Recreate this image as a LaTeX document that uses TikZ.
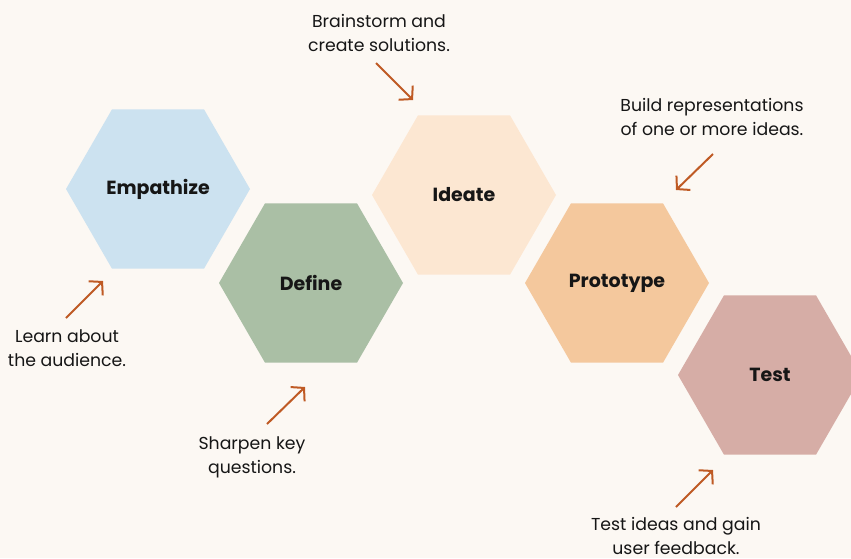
\documentclass[tikz,border=0pt]{standalone}
\usepackage{fontspec}
\setmainfont{Poppins}
\usetikzlibrary{shapes.geometric,arrows.meta}

\definecolor{paper}{HTML}{FCF8F3}
\definecolor{ink}{HTML}{161616}
\definecolor{rust}{HTML}{BF5A24}
\definecolor{skyblue}{HTML}{CCE2F0}
\definecolor{sage}{HTML}{AABFA5}
\definecolor{cream}{HTML}{FCE7D2}
\definecolor{apricot}{HTML}{F4C89D}
\definecolor{rosewood}{HTML}{D6ADA6}

\tikzset{
  hexa/.style={regular polygon, regular polygon sides=6, minimum size=184pt,
    inner sep=0pt, text=ink, font=\fontsize{19}{22}\selectfont\bfseries},
  note/.style={align=center, text=ink, font=\fontsize{17.3}{24}\selectfont},
  hint/.style={draw=rust, line width=2pt, -{Straight Barb[length=9pt,width=20pt]}}
}

\begin{document}
\begin{tikzpicture}[x=1pt, y=-1pt]
\useasboundingbox (0,0) rectangle (851,558);
\fill [paper] (0,0) rectangle (851,558);
\clip (0,0) rectangle (851,558);

% the five stages
\node [hexa, fill=skyblue, name=empathize] at (158,189) {Empathize};
\node [hexa, fill=sage, name=define] at (311,283) {Define};
\node [hexa, fill=cream, name=ideate] at (464,195) {Ideate};
\node [hexa, fill=apricot, name=prototype] at (617,283) {Prototype};
\node [hexa, fill=rosewood, name=test] at (770,375) {Test};

% notes
\node [note, name=learn] at (67,348) {Learn about\\the audience.};
\node [note, name=sharpen] at (252,457) {Sharpen key\\questions.};
\node [note, name=brainstorm] at (379,33) {Brainstorm and\\create solutions.};
\node [note, name=build] at (712,117) {Build representations\\of one or more ideas.};
\node [note, name=gain] at (676,536) {Test ideas and gain\\user feedback.};

% arrow ends
\coordinate (learn tail) at (66,318);   \coordinate (learn head) at (103,281);
\coordinate (sharpen tail) at (267,424); \coordinate (sharpen head) at (305,387);
\coordinate (storm tail) at (376,63);   \coordinate (storm head) at (413,100);
\coordinate (build tail) at (713,154);  \coordinate (build head) at (676,190);
\coordinate (gain tail) at (676,507);   \coordinate (gain head) at (713,470);

\draw [hint] (learn tail) -- (learn head);
\draw [hint] (sharpen tail) -- (sharpen head);
\draw [hint] (storm tail) -- (storm head);
\draw [hint] (build tail) -- (build head);
\draw [hint] (gain tail) -- (gain head);
\end{tikzpicture}
\end{document}
